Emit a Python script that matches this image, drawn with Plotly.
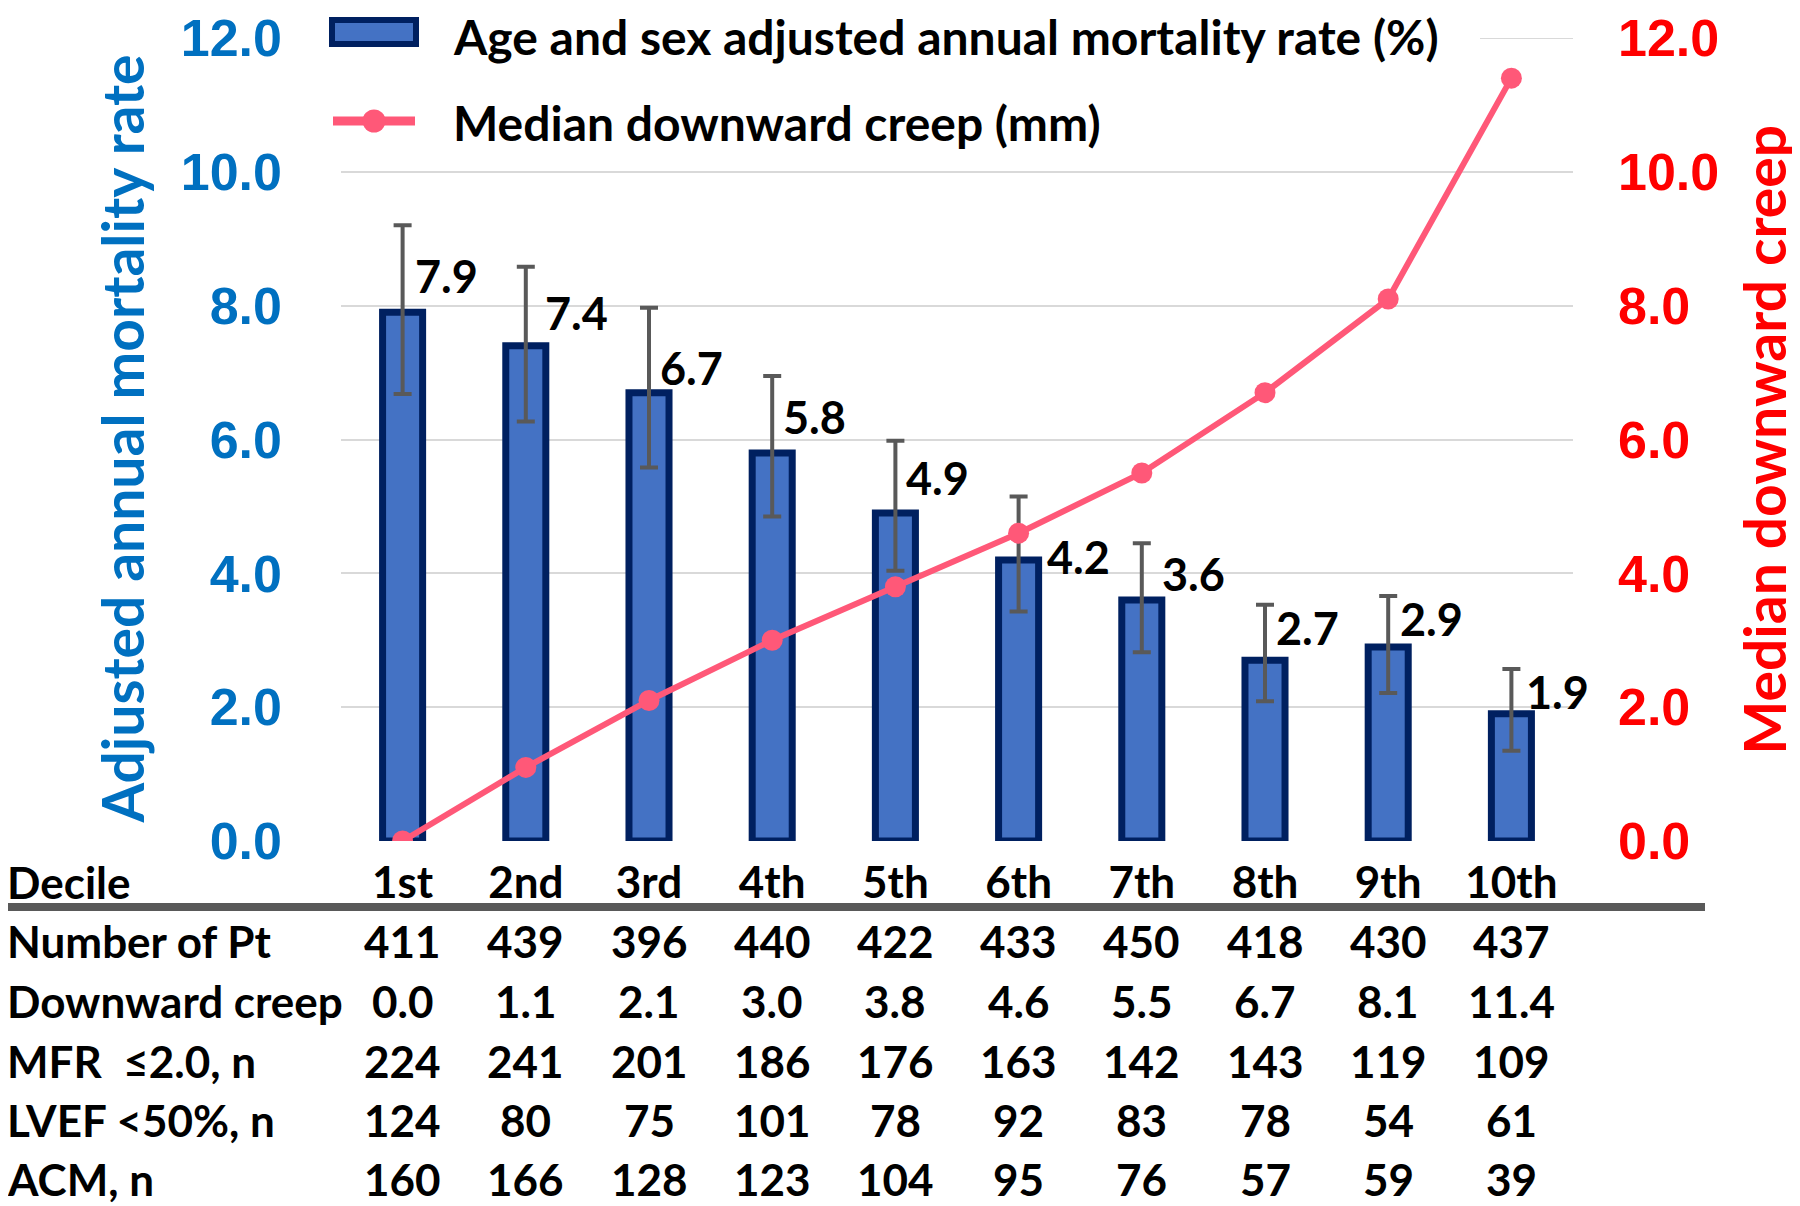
import plotly.graph_objects as go

# ---------------- data ----------------
deciles = ["1st", "2nd", "3rd", "4th", "5th", "6th", "7th", "8th", "9th", "10th"]
mortality = [7.9, 7.4, 6.7, 5.8, 4.9, 4.2, 3.6, 2.7, 2.9, 1.9]
mortality_upper = [9.2, 8.58, 7.97, 6.95, 5.98, 5.15, 4.45, 3.53, 3.66, 2.57]
mortality_lower = [6.68, 6.27, 5.58, 4.85, 4.04, 3.43, 2.82, 2.09, 2.21, 1.35]
creep = [0.0, 1.1, 2.1, 3.0, 3.8, 4.6, 5.5, 6.7, 8.1, 11.4]

table_labels = ["Number of Pt", "Downward creep", "MFR  \u22642.0, n", "LVEF <50%, n", "ACM, n"]
n_patients = [411, 439, 396, 440, 422, 433, 450, 418, 430, 437]
creep_text = ["0.0", "1.1", "2.1", "3.0", "3.8", "4.6", "5.5", "6.7", "8.1", "11.4"]
mfr_n = [224, 241, 201, 186, 176, 163, 142, 143, 119, 109]
lvef_n = [124, 80, 75, 101, 78, 92, 83, 78, 54, 61]
acm_n = [160, 166, 128, 123, 104, 95, 76, 57, 59, 39]

y_ticks = [0, 2, 4, 6, 8, 10, 12]

# ---------------- layout geometry ----------------
OFF = 8  # default page body margin
W, H = 1800 - OFF, 1206 - OFF
L, T = 333, 30
PW, PH = 1232, 803
R, B = W - L - PW, H - T - PH

def xp(px):
    """page pixel x -> paper x"""
    return (px - OFF - L) / PW

def yp(py):
    """page pixel y -> paper y"""
    return (T + PH - (py - OFF)) / PH

BLUE = "#0070C0"
RED = "#FF0000"
BAR_FILL = "#4472C4"
BAR_LINE = "#002060"
LINE_COL = "#FF5878"
ERR_COL = "#595959"
GRID = "#D9D9D9"
FONT = "Lato"

# pixel offsets for value labels
label_dx = [10, 17, 9, 9, 9, 26, 18, 9, 10, 13]
label_dy = [36, 33, 25, 36, 35, 3, 26, 32, 28, 22]

fig = go.Figure()

fig.add_trace(go.Bar(
    x=deciles, y=mortality,
    marker=dict(color=BAR_FILL, line=dict(color=BAR_LINE, width=7)),
    error_y=dict(type="data", symmetric=False,
                 array=[u - v for u, v in zip(mortality_upper, mortality)],
                 arrayminus=[v - l for v, l in zip(mortality, mortality_lower)],
                 color=ERR_COL, thickness=4, width=9),
    name="Age and sex adjusted annual mortality rate (%)",
    showlegend=False,
))

fig.add_trace(go.Scatter(
    x=deciles, y=creep, yaxis="y2", mode="lines+markers",
    line=dict(color=LINE_COL, width=6),
    marker=dict(color=LINE_COL, size=21),
    name="Median downward creep (mm)",
    showlegend=False,
))

annotations = []

# value labels
for i, (d, v) in enumerate(zip(deciles, mortality)):
    annotations.append(dict(
        x=d, y=v, xref="x", yref="y", text=f"{v:.1f}", showarrow=False,
        xanchor="left", yanchor="middle", xshift=label_dx[i], yshift=label_dy[i],
        font=dict(family=FONT, size=45, color="black", weight="bold"),
    ))

# axis titles
annotations.append(dict(
    x=xp(121), y=0.5, xref="paper", yref="paper", text="Adjusted annual mortality rate",
    textangle=-90, showarrow=False, xanchor="center", yanchor="middle",
    font=dict(family=FONT, size=57, color=BLUE, weight="bold"),
))
annotations.append(dict(
    x=xp(1763), y=0.5, xref="paper", yref="paper", text="Median downward creep",
    textangle=-90, showarrow=False, xanchor="center", yanchor="middle",
    font=dict(family=FONT, size=57, color=RED, weight="bold"),
))

# legend texts
annotations.append(dict(
    x=xp(451), y=yp(37), xref="paper", yref="paper",
    text="Age and sex adjusted annual mortality rate (%)", showarrow=False,
    xanchor="left", yanchor="middle",
    font=dict(family=FONT, size=48, color="black", weight="bold"),
))
annotations.append(dict(
    x=xp(451), y=yp(123), xref="paper", yref="paper",
    text="Median downward creep (mm)", showarrow=False,
    xanchor="left", yanchor="middle",
    font=dict(family=FONT, size=48, color="black", weight="bold"),
))

# table
TFS = 44
annotations.append(dict(
    x=xp(5), y=yp(882), xref="paper", yref="paper", text="Decile", showarrow=False,
    xanchor="left", yanchor="middle",
    font=dict(family=FONT, size=TFS, color="black", weight="bold"),
))
row_y = [941, 1001, 1061, 1120, 1179]
row_vals = [n_patients, creep_text, mfr_n, lvef_n, acm_n]
for lab, vals, py in zip(table_labels, row_vals, row_y):
    annotations.append(dict(
        x=xp(5), y=yp(py), xref="paper", yref="paper", text=lab, showarrow=False,
        xanchor="left", yanchor="middle",
        font=dict(family=FONT, size=TFS, color="black", weight="bold"),
    ))
    for d, v in zip(deciles, vals):
        annotations.append(dict(
            x=d, y=yp(py), xref="x", yref="paper", text=str(v), showarrow=False,
            xanchor="center", yanchor="middle",
            font=dict(family=FONT, size=TFS, color="black", weight="bold"),
        ))

shapes = [
    # visible part of the top gridline (rest hidden behind legend)
    dict(type="line", xref="paper", yref="y", x0=xp(1480), x1=1, y0=12, y1=12,
         line=dict(color=GRID, width=2), layer="below"),
    # table separator
    dict(type="line", xref="paper", yref="paper", x0=xp(6), x1=xp(1705),
         y0=yp(907), y1=yp(907), line=dict(color=ERR_COL, width=8)),
    # legend bar swatch
    dict(type="rect", xref="paper", yref="paper", x0=xp(332), x1=xp(416),
         y0=yp(44), y1=yp(20), fillcolor=BAR_FILL, line=dict(color=BAR_LINE, width=6)),
    # legend line swatch
    dict(type="line", xref="paper", yref="paper", x0=xp(333), x1=xp(415),
         y0=yp(121), y1=yp(121), line=dict(color=LINE_COL, width=9)),
    dict(type="circle", xref="paper", yref="paper", x0=xp(362.5), x1=xp(385.5),
         y0=yp(132.5), y1=yp(109.5), fillcolor=LINE_COL, line=dict(color=LINE_COL, width=0)),
]

fig.update_layout(
    width=W, height=H,
    margin=dict(l=L, r=R, t=T, b=B, pad=0, autoexpand=False),
    paper_bgcolor="white", plot_bgcolor="white",
    bargap=0.675,
    showlegend=False,
    annotations=annotations,
    shapes=shapes,
    xaxis=dict(
        type="category", range=[-0.5, 9.5], showgrid=False, zeroline=False, showline=False,
        ticks="", automargin=False,
        tickfont=dict(family=FONT, size=TFS, color="black", weight="bold"),
        ticklabelstandoff=12,
    ),
    yaxis=dict(
        range=[0, 12], tickvals=y_ticks, tickformat=".1f", automargin=False,
        showgrid=True, gridcolor=GRID, gridwidth=2, zeroline=False, showline=False,
        ticks="", ticklabelstandoff=58,
        tickfont=dict(family="Liberation Sans", size=52, color=BLUE, weight="bold"),
    ),
    yaxis2=dict(
        range=[0, 12], tickvals=y_ticks, tickformat=".1f", overlaying="y", side="right",
        showgrid=False, zeroline=False, showline=False, ticks="", ticklabelstandoff=44,
        automargin=False,
        tickfont=dict(family="Liberation Sans", size=52, color=RED, weight="bold"),
    ),
)

fig.write_html("out.html")
